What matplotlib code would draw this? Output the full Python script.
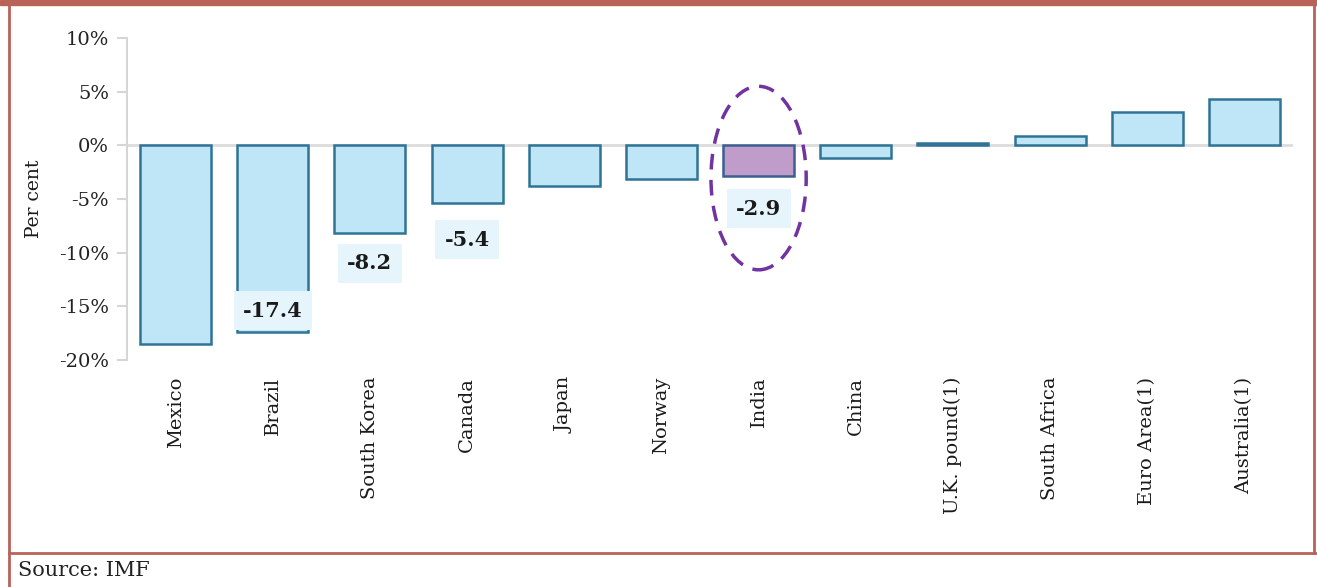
import numpy as np
import matplotlib.pyplot as plt
from matplotlib.patches import Ellipse, Rectangle
from matplotlib.lines import Line2D

# currency change vs USD, per cent
countries = ["Mexico", "Brazil", "South Korea", "Canada", "Japan", "Norway",
             "India", "China", "U.K. pound(1)", "South Africa", "Euro Area(1)",
             "Australia(1)"]
values = [-18.5, -17.4, -8.2, -5.4, -3.8, -3.1, -2.9, -1.2, 0.2, 0.9, 3.1, 4.3]
labelled = {"Brazil": 2.0, "South Korea": -2.8, "Canada": -3.4, "India": -3.0}
highlight = "India"

plt.rcParams['font.family'] = ['DejaVu Serif']

fig = plt.figure(figsize=(13.17, 5.87), dpi=100)
ax = fig.add_axes([127 / 1317, 227 / 587, (1293 - 127) / 1317, (549 - 227) / 587])

x = np.arange(len(countries))
fills = ['#c09ccb' if c == highlight else '#bee6f7' for c in countries]
edges = ['#3c5f92' if c == highlight else '#2f7497' for c in countries]
ax.bar(x, values, width=0.73, color=fills, edgecolor=edges, linewidth=1.8, zorder=3)
ax.axhline(0, color='#dcdcdc', linewidth=2, zorder=2)

for c, off in labelled.items():
    i = countries.index(c)
    ax.text(i, values[i] + off, f"{values[i]:.1f}", ha='center', va='center',
            fontsize=15, fontweight='bold', color='#1a1a1a', zorder=5,
            bbox=dict(boxstyle='square,pad=0.45', fc='#e6f4fc', ec='none'))

i = countries.index(highlight)
ax.add_patch(Ellipse((i, -3.05), 0.98, 17.1, fill=False, edgecolor='#7033a0',
                     linewidth=2.5, linestyle=(0, (4.5, 3)), zorder=6, clip_on=False))

ax.set_xlim(-0.5, len(countries) - 0.5)
ax.set_ylim(-20, 10)
ax.set_yticks([10, 5, 0, -5, -10, -15, -20])
ax.set_yticklabels([f"{t}%" for t in [10, 5, 0, -5, -10, -15, -20]])
ax.set_xticks(x)
ax.set_xticklabels(countries, rotation=90, fontsize=14, color='#1a1a1a')
ax.tick_params(axis='x', length=0, pad=12)
ax.tick_params(axis='y', length=7, width=1.5, color='#d6d6d6', labelsize=14,
               labelcolor='#222222', pad=6)
for s in ['top', 'right', 'bottom']:
    ax.spines[s].set_visible(False)
ax.spines['left'].set_color('#d6d6d6')
ax.spines['left'].set_linewidth(1.5)
ax.set_ylabel("Per cent", fontsize=13.5, color='#1a1a1a')
ax.yaxis.set_label_coords(-0.072, 0.5)

# frame around the chart
border = '#b8625a'
fig.patches.append(Rectangle((0, 1 - 5 / 587), 1, 5 / 587, transform=fig.transFigure,
                             color=border, zorder=0))
fig.lines.append(Line2D([8.5 / 1317] * 2, [0, 1], transform=fig.transFigure,
                        color=border, linewidth=2))
fig.lines.append(Line2D([1314 / 1317] * 2, [1 - 553 / 587, 1], transform=fig.transFigure,
                        color=border, linewidth=2))
fig.lines.append(Line2D([8.5 / 1317, 1], [1 - 553 / 587] * 2, transform=fig.transFigure,
                        color=border, linewidth=2))
fig.text(18 / 1317, 1 - 571 / 587, "Source: IMF", fontsize=15, color='#222222',
         va='center', ha='left')

plt.savefig("out.png", dpi=100)
